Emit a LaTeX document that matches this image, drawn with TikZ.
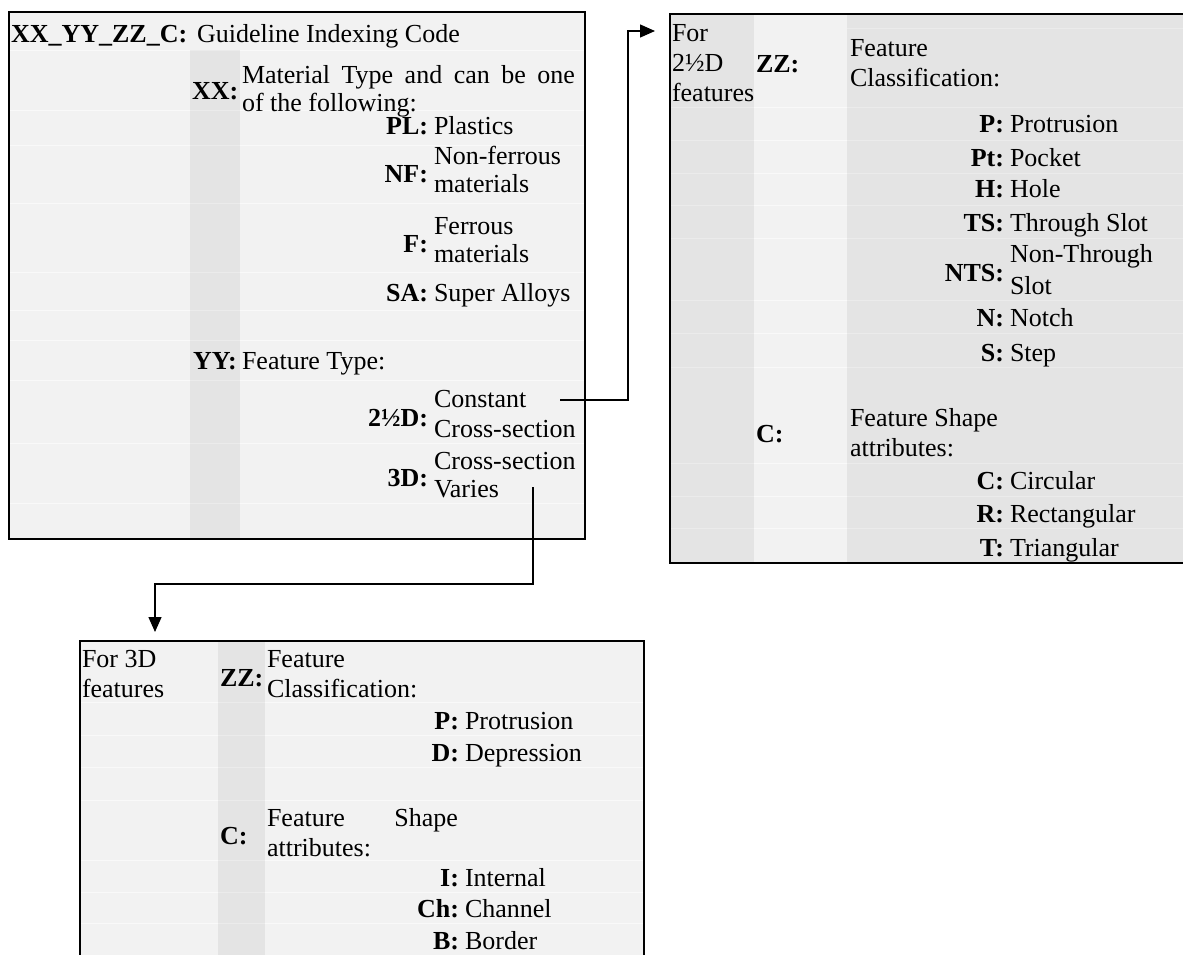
\documentclass[tikz,border=0pt]{standalone}
\usepackage{fontspec}
\setmainfont{Liberation Serif}
\usetikzlibrary{arrows.meta}
\definecolor{lg}{HTML}{F2F2F2}
\definecolor{mg}{HTML}{E4E4E4}
\definecolor{sepl}{HTML}{F9F9F9}
\definecolor{sepm}{HTML}{EBEBEB}
\begin{document}
\begin{tikzpicture}[x=1pt,y=-1pt,
  every node/.style={inner sep=0pt, outer sep=0pt, font=\fontsize{26}{30}\selectfont},
  txt/.style={anchor=base west},
  lab/.style={anchor=base east, font=\fontsize{26}{30}\selectfont\bfseries},
  labw/.style={anchor=base west, font=\fontsize{26}{30}\selectfont\bfseries},
  frame/.style={draw=black, line width=2pt, anchor=north west, fill=none},
  conn/.style={line width=1.4pt, draw=black},
  tip/.style={-{Triangle[length=15pt,width=13pt]}},
  sepline/.style={line width=1pt}
]
\useasboundingbox (0,0) rectangle (1183,954);
\clip (0,0) rectangle (1183,954);

% ---------------- Box 1 ----------------
\fill[lg] (9,12) rectangle (585,539);
\fill[mg] (190,50) rectangle (240,539);
\foreach \yy in {50,110,145,203,272,310,340,380,443,503}{
  \draw[sepl,sepline] (10,\yy) -- (190,\yy);
  \draw[sepm,sepline] (190,\yy) -- (240,\yy);
  \draw[sepl,sepline] (240,\yy) -- (584,\yy);
}
\node[frame, minimum width=576pt, minimum height=527pt] (box1) at (9,12) {};

\node[labw] (hdr) at (11,42) {XX\_YY\_ZZ\_C:};
\node[txt] (hdrt) at (197,42) {Guideline Indexing Code};

\node[labw] (xx) at (192,99) {XX:};
\node[txt] (xxa) at (242,83) {\makebox[333pt][s]{Material Type and can be one}};
\node[txt] (xxb) at (242,111) {of the following:};

\node[lab] (pl) at (428,134) {PL:};
\node[txt] (plt) at (434,134) {Plastics};

\node[lab] (nf) at (428,182) {NF:};
\node[txt] (nfa) at (434,164) {Non-ferrous};
\node[txt] (nfb) at (434,192) {materials};

\node[lab] (f) at (428,252) {F:};
\node[txt] (fa) at (434,234) {Ferrous};
\node[txt] (fb) at (434,262) {materials};

\node[lab] (sa) at (428,301) {SA:};
\node[txt] (sat) at (434,301) {Super Alloys};

\node[labw] (yy) at (193,369) {YY:};
\node[txt] (yyt) at (242,369) {Feature Type:};

\node[lab] (td) at (428,426) {2½D:};
\node[txt] (consta) at (434,407) {Constant};
\node[txt] (constb) at (434,437) {Cross-section};

\node[lab] (thd) at (428,486) {3D:};
\node[txt] (vara) at (434,469) {Cross-section};
\node[txt] (varb) at (434,497) {Varies};

% ---------------- Box 2 ----------------
\fill[mg] (670,14) rectangle (754,563);
\fill[lg] (754,14) rectangle (847,563);
\fill[mg] (847,14) rectangle (1190,563);
\foreach \yy in {107,140,173,205,238,300,333,367,463,496,528}{
  \draw[sepm,sepline] (671,\yy) -- (754,\yy);
  \draw[sepl,sepline] (754,\yy) -- (847,\yy);
  \draw[sepm,sepline] (847,\yy) -- (1190,\yy);
}
\draw[sepm,sepline] (847,28) -- (1190,28);
\node[frame, minimum width=525pt, minimum height=549pt] (box2) at (670,14) {};

\node[txt] (fora) at (672,41) {For};
\node[txt] (forb) at (672,71) {2½D};
\node[txt] (forc) at (672,101) {features};
\node[labw] (zz2) at (756,72) {ZZ:};
\node[txt] (fc2a) at (850,56) {Feature};
\node[txt] (fc2b) at (850,86) {Classification:};

\node[lab] (p2) at (1004,132) {P:};
\node[txt] (p2t) at (1010,132) {Protrusion};
\node[lab] (pt2) at (1004,166) {Pt:};
\node[txt] (pt2t) at (1010,166) {Pocket};
\node[lab] (h2) at (1004,197) {H:};
\node[txt] (h2t) at (1010,197) {Hole};
\node[lab] (ts2) at (1004,231) {TS:};
\node[txt] (ts2t) at (1010,231) {Through Slot};
\node[lab] (nts2) at (1004,281) {NTS:};
\node[txt] (nts2a) at (1010,262) {Non-Through};
\node[txt] (nts2b) at (1010,294) {Slot};
\node[lab] (n2) at (1004,326) {N:};
\node[txt] (n2t) at (1010,326) {Notch};
\node[lab] (s2) at (1004,361) {S:};
\node[txt] (s2t) at (1010,361) {Step};

\node[labw] (c2) at (756,442) {C:};
\node[txt] (fs2a) at (850,426) {Feature Shape};
\node[txt] (fs2b) at (850,456) {attributes:};
\node[lab] (cc2) at (1004,489) {C:};
\node[txt] (cc2t) at (1010,489) {Circular};
\node[lab] (r2) at (1004,522) {R:};
\node[txt] (r2t) at (1010,522) {Rectangular};
\node[lab] (t2) at (1004,556) {T:};
\node[txt] (t2t) at (1010,556) {Triangular};

% ---------------- Box 3 ----------------
\fill[lg] (80,641) rectangle (644,970);
\fill[mg] (218,641) rectangle (265,970);
\foreach \yy in {702,735,767,800,860,892,923}{
  \draw[sepl,sepline] (81,\yy) -- (218,\yy);
  \draw[sepm,sepline] (218,\yy) -- (265,\yy);
  \draw[sepl,sepline] (265,\yy) -- (643,\yy);
}
\node[frame, minimum width=564pt, minimum height=330pt] (box3) at (80,641) {};

\node[txt] (for3a) at (82,667) {For 3D};
\node[txt] (for3b) at (82,697) {features};
\node[labw] (zz3) at (220,686) {ZZ:};
\node[txt] (fc3a) at (267,667) {Feature};
\node[txt] (fc3b) at (267,697) {Classification:};
\node[lab] (p3) at (459,729) {P:};
\node[txt] (p3t) at (465,729) {Protrusion};
\node[lab] (d3) at (459,761) {D:};
\node[txt] (d3t) at (465,761) {Depression};

\node[labw] (c3) at (220,844) {C:};
\node[txt] (fs3a) at (267,826) {\makebox[191pt][s]{Feature Shape}};
\node[txt] (fs3b) at (267,856) {attributes:};
\node[lab] (i3) at (459,886) {I:};
\node[txt] (i3t) at (465,886) {Internal};
\node[lab] (ch3) at (459,917) {Ch:};
\node[txt] (ch3t) at (465,917) {Channel};
\node[lab] (b3) at (459,949) {B:};
\node[txt] (b3t) at (465,949) {Border};

% ---------------- Connectors ----------------
\coordinate (c1a) at (560,400);
\coordinate (c1b) at (628,400);
\coordinate (c1c) at (628,31);
\draw[conn, tip, shorten >=15pt] (c1a) -- (c1b) -- (c1c) -- (box2.north west |- c1c);

\coordinate (c2a) at (533,487);
\coordinate (c2b) at (533,584);
\coordinate (c2c) at (155,584);
\draw[conn, tip, shorten >=9pt] (c2a) -- (c2b) -- (c2c) -- (c2c |- box3.north west);
\end{tikzpicture}
\end{document}
